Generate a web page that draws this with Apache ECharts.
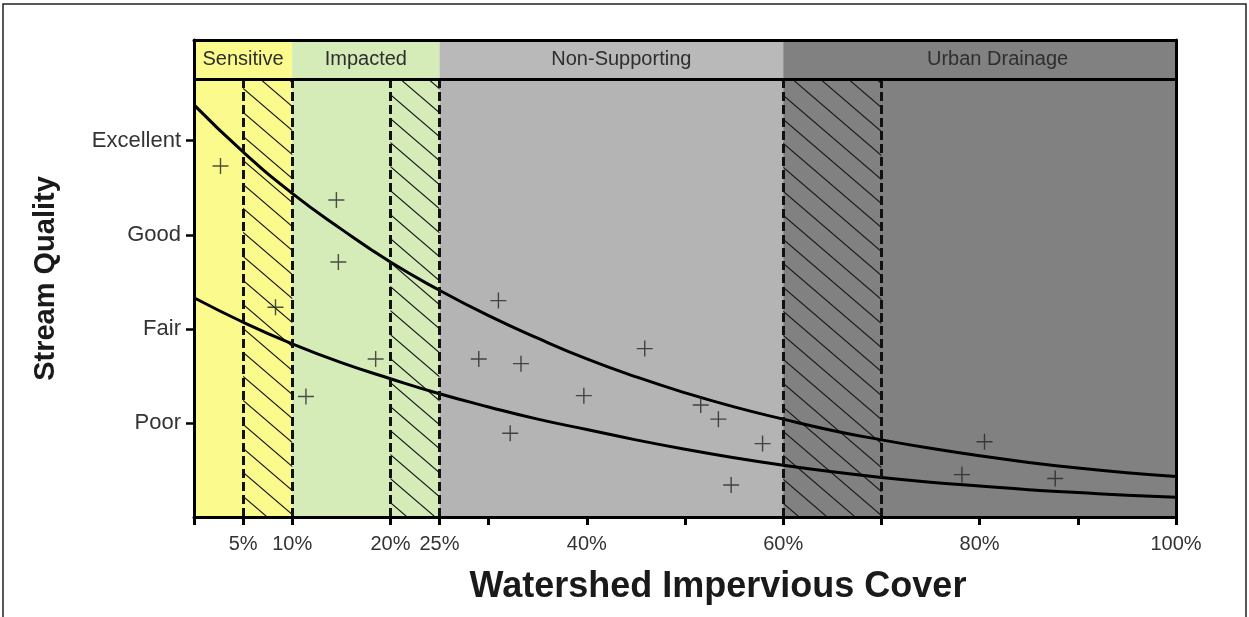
<!DOCTYPE html>
<html>
<head>
<meta charset="utf-8">
<script src="https://cdn.jsdelivr.net/npm/echarts@6/dist/echarts.min.js"></script>
<style>
  html, body { margin: 0; padding: 0; background: #fff; }
  #chart { width: 1249px; height: 617px; }
</style>
</head>
<body>
<div id="chart"></div>
<script>
// x axis: impervious cover (%)
const xTicks = [0, 5, 10, 20, 25, 30, 40, 50, 60, 70, 80, 90, 100]
const xLabelValues = [5, 10, 20, 25, 40, 60, 80, 100]
// y axis: stream quality classes
const qualityValues = [1, 2, 3, 4]
const qualityNames = ['Poor', 'Fair', 'Good', 'Excellent']
// zones across the top
const zoneNames = ['Sensitive', 'Impacted', 'Non-Supporting', 'Urban Drainage']
const zoneBounds = [0, 10, 25, 60, 100]
const zoneColors = ['#fbfa8c', '#d5ebb8', '#b4b4b4', '#818181']
const headerColors = ['#fbfa8c', '#d5ebb8', '#b9b9b9', '#818181']
// transition (hatched) ranges and dashed boundaries
const hatchRanges = [[5, 10], [20, 25], [60, 70]]
const dashedAt = [5, 10, 20, 25, 60, 70]
// band curves
const curveX = [0, 5, 10, 15, 20, 25, 30, 35, 40, 45, 50, 55, 60, 65, 70, 75, 80, 85, 90, 95, 100]
const upperCurve = [4.38, 3.88, 3.44, 3.06, 2.71, 2.41, 2.14, 1.90, 1.68, 1.49, 1.32, 1.17, 1.04, 0.92, 0.82, 0.73, 0.65, 0.58, 0.52, 0.47, 0.43]
const lowerCurve = [2.33, 2.07, 1.84, 1.64, 1.47, 1.31, 1.17, 1.04, 0.93, 0.82, 0.72, 0.63, 0.55, 0.48, 0.42, 0.37, 0.33, 0.29, 0.26, 0.23, 0.21]
// observed sites
const siteX = [2.7, 14.5, 14.7, 8.3, 18.5, 11.4, 31.0, 29.0, 33.3, 45.9, 39.7, 32.2, 51.6, 53.4, 57.9, 54.7, 80.5, 78.2, 87.7]
const siteY = [3.73, 3.37, 2.71, 2.23, 1.68, 1.28, 2.30, 1.68, 1.63, 1.79, 1.29, 0.89, 1.19, 1.04, 0.78, 0.34, 0.80, 0.45, 0.41]

const headerBottom = 4.65
const yMax = 5.07

// 斜线填充
const makeHatch = () => {
  const w = 28, h = 24
  const cv = document.createElement('canvas')
  cv.width = w
  cv.height = h
  const ctx = cv.getContext('2d')
  ctx.strokeStyle = '#1c1c1c'
  ctx.lineWidth = 1.2
  ctx.beginPath()
  ctx.moveTo(0, 0); ctx.lineTo(w, h)
  ctx.moveTo(-w, 0); ctx.lineTo(w, 2 * h)
  ctx.moveTo(0, -h); ctx.lineTo(2 * w, h)
  ctx.stroke()
  return { image: cv, repeat: 'repeat' }
}

const chart = echarts.init(document.getElementById('chart'))
const font = 'Liberation Sans, Arial, sans-serif'
// 标题条文字略偏右
const headerOffsets = [0, 0, 10, 18]

const bodyAreas = zoneNames.map((n, i) => [
  { xAxis: zoneBounds[i], yAxis: 0, itemStyle: { color: zoneColors[i] } },
  { xAxis: zoneBounds[i + 1], yAxis: headerBottom }
])
const headerAreas = zoneNames.map((n, i) => [
  {
    name: n, xAxis: zoneBounds[i], yAxis: headerBottom,
    itemStyle: { color: headerColors[i] },
    label: { offset: [headerOffsets[i], 0] }
  },
  { xAxis: zoneBounds[i + 1], yAxis: yMax }
])
const hatch = makeHatch()
const hatchAreas = hatchRanges.map(r => [
  { xAxis: r[0], yAxis: 0 },
  { xAxis: r[1], yAxis: headerBottom }
])
const dashedLines = dashedAt.map(x => [{ coord: [x, 0] }, { coord: [x, headerBottom] }])

const axisLine = { show: true, onZero: false, lineStyle: { color: '#000', width: 3 } }

const option = {
  animation: false,
  backgroundColor: '#fff',
  grid: { left: 194, right: 73, top: 40, bottom: 100 },
  graphic: [{
    type: 'rect',
    shape: { x: 3, y: 4, width: 1243, height: 700 },
    style: { fill: 'none', stroke: '#222', lineWidth: 1.5 },
    silent: true
  }],
  xAxis: [{
    type: 'value', min: 0, max: 100, z: 10,
    splitLine: { show: false },
    axisLine: axisLine,
    axisTick: { show: true, customValues: xTicks, length: 8, lineStyle: { color: '#000', width: 3 } },
    axisLabel: {
      customValues: xLabelValues, formatter: '{value}%', margin: 17,
      fontSize: 20, color: '#333', fontFamily: font
    },
    name: 'Watershed Impervious Cover',
    nameLocation: 'middle', nameGap: 52,
    nameTextStyle: { fontSize: 36, fontWeight: 'bold', color: '#1a1a1a', fontFamily: font, padding: [0, 0, 0, 66] }
  }, {
    type: 'value', min: 0, max: 100, position: 'top', z: 10,
    splitLine: { show: false }, axisLine: axisLine,
    axisTick: { show: false }, axisLabel: { show: false }
  }],
  yAxis: [{
    type: 'value', min: 0, max: yMax, z: 10,
    splitLine: { show: false },
    axisLine: axisLine,
    axisTick: { show: true, customValues: qualityValues, length: 8, lineStyle: { color: '#000', width: 2.5 } },
    axisLabel: {
      customValues: qualityValues, formatter: v => qualityNames[Math.round(v) - 1],
      margin: 13, fontSize: 22, color: '#333', fontFamily: font
    },
    name: 'Stream Quality',
    nameLocation: 'middle', nameGap: 134, nameRotate: 90,
    nameTextStyle: { fontSize: 29, fontWeight: 'bold', color: '#1a1a1a', fontFamily: font }
  }, {
    type: 'value', min: 0, max: yMax, position: 'right', z: 10,
    splitLine: { show: false }, axisLine: axisLine,
    axisTick: { show: false }, axisLabel: { show: false }
  }],
  series: [
    {
      // 区域底色 + 顶部标题条
      type: 'line', data: [], silent: true, z: 1,
      markArea: {
        silent: true,
        label: { show: true, position: 'inside', fontSize: 20, color: '#2e2e2e', fontFamily: font },
        data: bodyAreas.concat(headerAreas)
      }
    },
    {
      // 过渡区斜线
      type: 'line', data: [], silent: true, z: 2,
      markArea: { silent: true, itemStyle: { color: hatch }, data: hatchAreas }
    },
    {
      // 虚线边界 + 标题条下边线
      type: 'line', data: [], silent: true, z: 3,
      markLine: {
        silent: true, symbol: ['none', 'none'], label: { show: false },
        lineStyle: { color: '#111', width: 3, type: [9, 4] },
        data: dashedLines.concat([[
          { coord: [0, headerBottom], lineStyle: { type: 'solid', color: '#000', width: 3 } },
          { coord: [100, headerBottom] }
        ]])
      }
    },
    {
      type: 'line', z: 4, silent: true, smooth: true, showSymbol: false,
      lineStyle: { color: '#000', width: 3 },
      data: curveX.map((x, i) => [x, upperCurve[i]])
    },
    {
      type: 'line', z: 4, silent: true, smooth: true, showSymbol: false,
      lineStyle: { color: '#000', width: 3 },
      data: curveX.map((x, i) => [x, lowerCurve[i]])
    },
    {
      type: 'scatter', z: 5, silent: true,
      symbol: 'path://M7.3,0h1.4v16h-1.4z M0,7.3h16v1.4h-16z',
      symbolSize: 16,
      itemStyle: { color: '#262626' },
      data: siteX.map((x, i) => [x, siteY[i]])
    }
  ]
}
chart.setOption(option)
</script>
</body>
</html>
